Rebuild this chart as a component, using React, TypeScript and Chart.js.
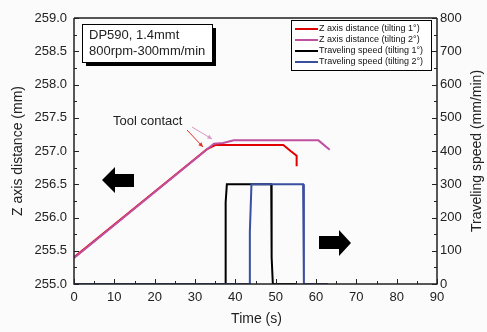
import React, { useEffect, useRef } from "react";
import { Chart, registerables } from "chart.js";

Chart.register(...registerables);

// ---- data ----
const timeZ1 = [0, 33, 35, 51.9, 53.7, 55.2, 55.2];
const zDist1 = [255.4, 257.03, 257.09, 257.09, 257.0, 256.93, 256.77];
const timeZ2 = [0, 34.7, 37, 39.6, 60.6, 63.4];
const zDist2 = [255.39, 257.11, 257.12, 257.16, 257.16, 257.02];
const timeS1 = [0, 37.6, 37.6, 37.9, 48.9, 49.0, 49.3, 55];
const speed1 = [0, 0, 246, 300, 300, 80, 0, 0];
const timeS2 = [0, 43.6, 43.6, 44, 56.8, 57, 63];
const speed2 = [0, 0, 157, 300, 300, 0, 0];

const seriesLabels = [
  "Z axis distance (tilting 1°)",
  "Z axis distance (tilting 2°)",
  "Traveling speed (tilting 1°)",
  "Traveling speed (tilting 2°)",
];
const seriesColors = ["#e00000", "#c050a0", "#000000", "#3a4fa0"];
const infoLines = ["DP590, 1.4mmt", "800rpm-300mm/min"];
const annotationText = "Tool contact";
const xTitle = "Time (s)";
const yTitle = "Z axis distance (mm)";
const y1Title = "Traveling speed (mm/min)";

const FONT = "'Liberation Sans', Arial, sans-serif";

const pts = (xs: number[], ys: number[]) => xs.map((x, i) => ({ x, y: ys[i] }));

const decorPlugin = {
  id: "decor",
  beforeDraw(chart: any) {
    const ctx = chart.ctx;
    ctx.save();
    ctx.fillStyle = "#fbfbfb";
    ctx.fillRect(0, 0, chart.width, chart.height);
    ctx.restore();
  },
  afterDraw(chart: any) {
    const ctx = chart.ctx;
    const { left, right, top, bottom } = chart.chartArea;
    const xs = chart.scales.x;
    const ys = chart.scales.y;
    const y1 = chart.scales.y1;
    ctx.save();
    // frame
    ctx.strokeStyle = "#555";
    ctx.lineWidth = 2;
    ctx.beginPath();
    ctx.moveTo(left, top);
    ctx.lineTo(right, top);
    ctx.stroke();
    ctx.strokeStyle = "#222";
    ctx.lineWidth = 1.5;
    ctx.beginPath();
    ctx.moveTo(left, top);
    ctx.lineTo(left, bottom);
    ctx.lineTo(right, bottom);
    ctx.lineTo(right, top);
    ctx.stroke();
    // ticks
    ctx.lineWidth = 1;
    ctx.strokeStyle = "#222";
    ctx.beginPath();
    for (let v = 255; v <= 259.001; v += 0.25) {
      const p = Math.round(ys.getPixelForValue(v)) + 0.5;
      const major = Math.abs(v * 2 - Math.round(v * 2)) < 1e-6;
      ctx.moveTo(left, p);
      ctx.lineTo(left + (major ? 5 : 3), p);
    }
    for (let v = 0; v <= 800; v += 50) {
      const p = Math.round(y1.getPixelForValue(v)) + 0.5;
      const major = v % 100 === 0;
      ctx.moveTo(right, p);
      ctx.lineTo(right - (major ? 5 : 3), p);
    }
    for (let v = 0; v <= 90; v += 5) {
      const p = Math.round(xs.getPixelForValue(v)) + 0.5;
      const major = v % 10 === 0;
      ctx.moveTo(p, bottom);
      ctx.lineTo(p, bottom - (major ? 5 : 3));
    }
    ctx.stroke();

    // axis titles
    ctx.fillStyle = "#222";
    ctx.font = `14px ${FONT}`;
    ctx.textAlign = "center";
    ctx.textBaseline = "middle";
    ctx.fillText(xTitle, (left + right) / 2 + 1, 319);
    ctx.save();
    ctx.translate(18, (top + bottom) / 2);
    ctx.rotate(-Math.PI / 2);
    ctx.fillText(yTitle, 0, 0);
    ctx.restore();
    ctx.save();
    ctx.translate(477, (top + bottom) / 2);
    ctx.rotate(-Math.PI / 2);
    ctx.fillText(y1Title, 0, 0);
    ctx.restore();

    // info box
    ctx.fillStyle = "#000";
    ctx.fillRect(86, 28, 130, 38);
    ctx.fillStyle = "#fff";
    ctx.fillRect(82, 24, 130, 38);
    ctx.strokeStyle = "#000";
    ctx.lineWidth = 1;
    ctx.strokeRect(82.5, 24.5, 130, 38);
    ctx.fillStyle = "#222";
    ctx.font = `13px ${FONT}`;
    ctx.textAlign = "left";
    ctx.textBaseline = "alphabetic";
    ctx.fillText(infoLines[0], 89, 39);
    ctx.fillText(infoLines[1], 89, 55);

    // legend
    ctx.fillStyle = "#fff";
    ctx.fillRect(291, 20, 140, 50);
    ctx.strokeStyle = "#000";
    ctx.strokeRect(291.5, 20.5, 140, 50);
    ctx.font = `9px ${FONT}`;
    ctx.textBaseline = "middle";
    const rows = [29, 40, 51, 62];
    rows.forEach((ry, i) => {
      ctx.strokeStyle = seriesColors[i];
      ctx.lineWidth = 2;
      ctx.beginPath();
      ctx.moveTo(295, ry);
      ctx.lineTo(318, ry);
      ctx.stroke();
      ctx.fillStyle = "#111";
      ctx.fillText(seriesLabels[i], 319, ry, 104);
    });

    // annotation
    ctx.fillStyle = "#222";
    ctx.font = `13px ${FONT}`;
    ctx.textBaseline = "alphabetic";
    ctx.fillText(annotationText, 113, 125);
    const arrow = (x0: number, y0: number, x1: number, y1p: number, col: string) => {
      ctx.strokeStyle = col;
      ctx.fillStyle = col;
      ctx.lineWidth = 1;
      ctx.beginPath();
      ctx.moveTo(x0, y0);
      ctx.lineTo(x1, y1p);
      ctx.stroke();
      const a = Math.atan2(y1p - y0, x1 - x0);
      const L = 5;
      ctx.beginPath();
      ctx.moveTo(x1, y1p);
      ctx.lineTo(x1 - L * Math.cos(a - 0.45), y1p - L * Math.sin(a - 0.45));
      ctx.lineTo(x1 - L * Math.cos(a + 0.45), y1p - L * Math.sin(a + 0.45));
      ctx.closePath();
      ctx.fill();
    };
    arrow(187, 130, 203, 147, "#e03020");
    arrow(192, 127, 212, 139, "#d898c8");

    // block arrows
    ctx.fillStyle = "#000";
    ctx.beginPath();
    ctx.moveTo(102, 180);
    ctx.lineTo(115, 167);
    ctx.lineTo(115, 174);
    ctx.lineTo(134, 174);
    ctx.lineTo(134, 187);
    ctx.lineTo(115, 187);
    ctx.lineTo(115, 193);
    ctx.closePath();
    ctx.fill();
    ctx.beginPath();
    ctx.moveTo(351, 243);
    ctx.lineTo(339, 230);
    ctx.lineTo(339, 236);
    ctx.lineTo(319, 236);
    ctx.lineTo(319, 249);
    ctx.lineTo(339, 249);
    ctx.lineTo(339, 256);
    ctx.closePath();
    ctx.fill();
    ctx.restore();
  },
};

export default function App() {
  const ref = useRef<HTMLCanvasElement | null>(null);
  useEffect(() => {
    if (!ref.current) return;
    const tickFont = { family: FONT, size: 13 };
    const chart = new Chart(ref.current, {
      type: "line",
      data: {
        datasets: [
          {
            label: seriesLabels[0],
            data: pts(timeZ1, zDist1),
            borderColor: seriesColors[0],
            borderWidth: 2,
            pointRadius: 0,
            yAxisID: "y",
            order: 1,
          },
          {
            label: seriesLabels[1],
            data: pts(timeZ2, zDist2),
            borderColor: seriesColors[1],
            borderWidth: 2,
            pointRadius: 0,
            yAxisID: "y",
            order: 0,
          },
          {
            label: seriesLabels[2],
            data: pts(timeS1, speed1),
            borderColor: seriesColors[2],
            borderWidth: 2,
            pointRadius: 0,
            yAxisID: "y1",
            order: 3,
          },
          {
            label: seriesLabels[3],
            data: pts(timeS2, speed2),
            borderColor: seriesColors[3],
            borderWidth: 2,
            pointRadius: 0,
            yAxisID: "y1",
            order: 2,
          },
        ],
      },
      options: {
        responsive: false,
        animation: false,
        devicePixelRatio: 1,
        layout: { padding: { top: 18, left: 0, right: 0, bottom: 0 } },
        plugins: { legend: { display: false }, tooltip: { enabled: false } },
        elements: { line: { tension: 0 } },
        scales: {
          x: {
            type: "linear",
            min: 0,
            max: 90,
            grid: { display: false, drawTicks: false },
            border: { display: false },
            ticks: { stepSize: 10, font: tickFont, color: "#222", padding: 6, maxRotation: 0 },
            afterFit: (s: any) => {
              s.height = 48;
            },
          },
          y: {
            position: "left",
            min: 255,
            max: 259,
            grid: { display: false, drawTicks: false },
            border: { display: false },
            ticks: {
              stepSize: 0.5,
              font: tickFont,
              color: "#222",
              padding: 7,
              callback: (v: any) => Number(v).toFixed(1),
            },
            afterFit: (s: any) => {
              s.width = 74;
            },
          },
          y1: {
            position: "right",
            min: 0,
            max: 800,
            grid: { display: false, drawTicks: false },
            border: { display: false },
            ticks: { stepSize: 100, font: tickFont, color: "#222", padding: 3 },
            afterFit: (s: any) => {
              s.width = 50;
            },
          },
        },
      },
      plugins: [decorPlugin],
    } as any);
    return () => chart.destroy();
  }, []);
  return (
    <div style={{ position: "absolute", left: 0, top: 0, width: 487, height: 332 }}>
      <canvas ref={ref} width={487} height={332} style={{ display: "block" }} />
    </div>
  );
}
